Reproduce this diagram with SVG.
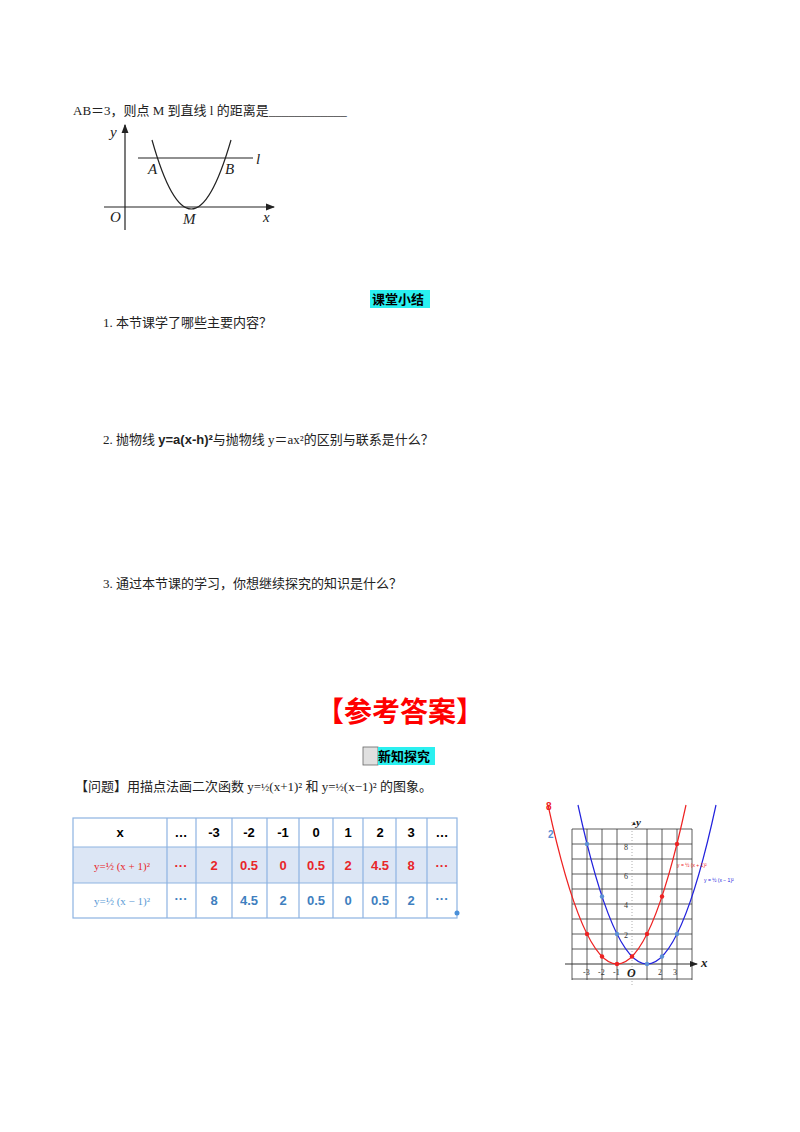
<svg xmlns="http://www.w3.org/2000/svg" width="800" height="1132" viewBox="0 0 800 1132">
<style>
.s{font-family:"Liberation Serif","Noto Sans CJK SC",serif;font-size:13px;fill:#222}
.i{font-family:"Liberation Serif",serif;font-style:italic;font-size:15px;fill:#222}
.h{font-family:"Noto Sans CJK SC",sans-serif;font-weight:bold;font-size:13px;fill:#000}
.t{font-family:"Liberation Sans","Noto Sans CJK SC",sans-serif;font-weight:bold;font-size:13px;text-anchor:middle}
.g{stroke:#333;stroke-width:0.8;fill:none}
</style>
<defs>
<marker id="ar" markerWidth="8" markerHeight="8" refX="7" refY="4" orient="auto"><path d="M0,1 L8,4 L0,7 Z" fill="#222"/></marker>
</defs>
<rect width="800" height="1132" fill="#fff"/>
<text class="s" x="73" y="115">AB＝3，则点 M 到直线 l 的距离是____________</text>
<g id="fig1">
<line x1="104" y1="207" x2="274" y2="207" stroke="#222" stroke-width="1.2" marker-end="url(#ar)"/>
<line x1="125" y1="230" x2="125" y2="125" stroke="#222" stroke-width="1.2" marker-end="url(#ar)"/>
<line x1="138" y1="158" x2="253" y2="158" stroke="#222" stroke-width="1.2"/>
<path d="M152,140 Q191,278 231,140" fill="none" stroke="#222" stroke-width="1.2"/>
<text class="i" x="110" y="137">y</text><text class="i" x="148" y="174">A</text><text class="i" x="225" y="174">B</text>
<text class="i" x="256" y="164">l</text><text class="i" x="110" y="222">O</text><text class="i" x="183" y="224">M</text><text class="i" x="263" y="222">x</text>
</g>
<g id="summary">
<rect x="370" y="290" width="60" height="18" fill="#2af0f0"/>
<text class="h" x="372" y="304">课堂小结</text>
<text class="s" x="103" y="327">1. 本节课学了哪些主要内容？</text>
<text class="s" x="103" y="444">2. 抛物线 <tspan font-weight="bold" font-family="Liberation Sans">y=a(x-h)²</tspan>与抛物线 y＝ax²的区别与联系是什么？</text>
<text class="s" x="103" y="588">3. 通过本节课的学习，你想继续探究的知识是什么？</text>
</g>
<text x="400" y="722" text-anchor="middle" font-family="Noto Sans CJK SC,sans-serif" font-weight="bold" font-size="28" fill="#ff0000">【参考答案】</text>
<g id="newknow">
<rect x="363" y="747" width="15" height="18" fill="#e0e0e0" stroke="#666" stroke-width="0.8"/>
<rect x="378" y="747" width="57" height="18" fill="#2af0f0"/>
<text class="h" x="378" y="761">新知探究</text>
</g>
<text class="s" x="75" y="791">【问题】用描点法画二次函数 y=<tspan font-size="11">½</tspan>(x+1)² 和 y=<tspan font-size="11">½</tspan>(x−1)² 的图象。</text>
<g id="table">
<rect x="73" y="847" width="384" height="36" fill="#dce6f5"/>
<g stroke="#8db3e2" stroke-width="1.2" fill="none">
<rect x="73" y="818" width="384" height="100"/>
<line x1="73" y1="847" x2="457" y2="847"/><line x1="73" y1="883" x2="457" y2="883"/>
<line x1="167" y1="818" x2="167" y2="918"/><line x1="196" y1="818" x2="196" y2="918"/><line x1="232" y1="818" x2="232" y2="918"/><line x1="267" y1="818" x2="267" y2="918"/><line x1="299" y1="818" x2="299" y2="918"/><line x1="333" y1="818" x2="333" y2="918"/><line x1="363" y1="818" x2="363" y2="918"/><line x1="396" y1="818" x2="396" y2="918"/><line x1="427" y1="818" x2="427" y2="918"/>
</g>
<circle cx="457" cy="913" r="2.5" fill="#4a90d9"/>
<g fill="#000">
<text class="t" x="120" y="837" font-weight="normal" font-family="Liberation Serif">x</text>
<text class="t" x="181" y="837">…</text><text class="t" x="214" y="837">-3</text><text class="t" x="249" y="837">-2</text><text class="t" x="283" y="837">-1</text><text class="t" x="316" y="837">0</text><text class="t" x="348" y="837">1</text><text class="t" x="380" y="837" font-weight="normal" font-family="Liberation Serif">2</text><text class="t" x="411" y="837" font-weight="normal" font-family="Liberation Serif">3</text><text class="t" x="442" y="837">…</text>
</g>
<g fill="#e8262a">
<text x="122" y="870" text-anchor="middle" font-family="Liberation Serif" font-size="11" fill="#e8262a">y=½ (x + 1)²</text>
<text class="t" x="181" y="870">···</text><text class="t" x="214" y="870">2</text><text class="t" x="249" y="870">0.5</text><text class="t" x="283" y="870">0</text><text class="t" x="316" y="870">0.5</text><text class="t" x="348" y="870">2</text><text class="t" x="380" y="870">4.5</text><text class="t" x="411" y="870">8</text><text class="t" x="442" y="870">···</text>
</g>
<g fill="#3f7fbf">
<text x="122" y="905" text-anchor="middle" font-family="Liberation Serif" font-size="11" fill="#5b9bd5">y=½ (x − 1)²</text>
<text class="t" x="181" y="903">···</text><text class="t" x="214" y="905">8</text><text class="t" x="249" y="905">4.5</text><text class="t" x="283" y="905">2</text><text class="t" x="316" y="905">0.5</text><text class="t" x="348" y="905">0</text><text class="t" x="380" y="905">0.5</text><text class="t" x="411" y="905">2</text><text class="t" x="442" y="903">···</text>
</g>
</g>
<g id="graph">
<g class="g">
<path d="M572,829V980M587,829V980M602,829V980M617,829V980M647,829V980M662,829V980M677,829V980M692,829V980"/>
<path d="M572,829H692M572,844H692M572,859H692M572,874H692M572,889H692M572,904H692M572,919H692M572,934H692M572,949H692M572,979H692"/>
</g>
<line x1="632" y1="985" x2="632" y2="820" stroke="#999" stroke-width="0.8" stroke-dasharray="1,2"/>
<line x1="565" y1="964" x2="697" y2="964" stroke="#333" stroke-width="1" marker-end="url(#ar)"/>
<path d="M548,805 Q617,1123 686,805" fill="none" stroke="#ee2222" stroke-width="1.2"/>
<path d="M578,805 Q647,1123 716,805" fill="none" stroke="#2222dd" stroke-width="1.2"/>
<g fill="#ee2222"><circle cx="587" cy="934" r="2.2"/><circle cx="602" cy="956.5" r="2.2"/><circle cx="617" cy="964" r="2.2"/><circle cx="632" cy="956.5" r="2.2"/><circle cx="647" cy="934" r="2.2"/><circle cx="662" cy="896.5" r="2.2"/><circle cx="677" cy="844" r="2.2"/></g>
<g fill="#5b8fd5"><circle cx="587" cy="844" r="2.2"/><circle cx="602" cy="896.5" r="2.2"/><circle cx="617" cy="934" r="2.2"/><circle cx="647" cy="964" r="2.2"/><circle cx="662" cy="956.5" r="2.2"/><circle cx="677" cy="934" r="2.2"/></g>
<g font-family="Liberation Serif,serif" font-size="8" fill="#333">
<text x="624" y="850">8</text><text x="624" y="879">6</text><text x="624" y="908">4</text><text x="624" y="938">2</text>
<text x="583" y="975">-3</text><text x="598" y="975">-2</text><text x="613" y="975">-1</text><text x="658" y="975">2</text><text x="673" y="975">3</text>
</g>
<text x="627" y="977" font-family="Liberation Serif" font-style="italic" font-weight="bold" font-size="12" fill="#222">O</text>
<text x="636" y="826" font-family="Liberation Serif" font-style="italic" font-weight="bold" font-size="11" fill="#222">y</text>
<text x="631" y="825" font-size="6" fill="#222" font-family="Liberation Sans">▲</text>
<text x="701" y="967" font-family="Liberation Serif" font-style="italic" font-weight="bold" font-size="13" fill="#222">x</text>
<text x="546" y="810" font-family="Liberation Sans" font-weight="bold" font-size="10" fill="#ee2222">8</text>
<text x="548" y="838" font-family="Liberation Sans" font-weight="bold" font-size="10" fill="#5b8fd5">2</text>
<text x="677" y="867" font-family="Liberation Sans" font-size="5" fill="#ee2222">y = ½ (x + 1)²</text>
<text x="704" y="882" font-family="Liberation Sans" font-size="5" fill="#2222dd">y = ½ (x − 1)²</text>
</g>
</svg>
